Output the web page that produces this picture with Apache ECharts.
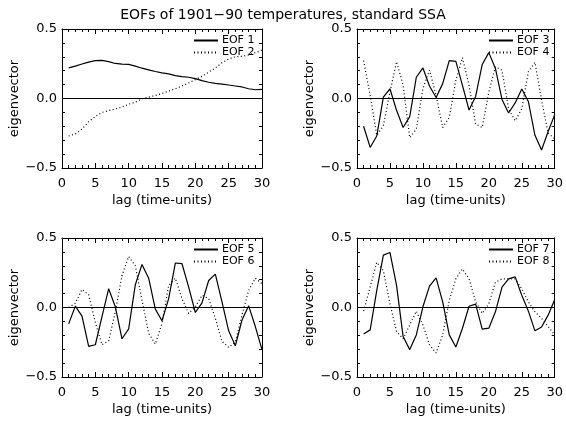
<!DOCTYPE html>
<html>
<head>
<meta charset="utf-8">
<title>EOFs of 1901-90 temperatures</title>
<script src="https://cdn.jsdelivr.net/npm/echarts@6/dist/echarts.min.js"></script>
</head>
<body style="margin:0">
<div id="container" style="width:566px;height:422px"></div>
<script>
// lags (time-units)
var lags = [1,2,3,4,5,6,7,8,9,10,11,12,13,14,15,16,17,18,19,20,21,22,23,24,25,26,27,28,29,30];

// eigenvectors
var eof1 = [0.22,0.233,0.248,0.262,0.272,0.274,0.265,0.252,0.248,0.245,0.233,0.218,0.206,0.194,0.184,0.177,0.165,0.158,0.153,0.143,0.129,0.117,0.109,0.104,0.097,0.09,0.083,0.07,0.063,0.066];
var eof2 = [-0.27,-0.255,-0.22,-0.167,-0.129,-0.1,-0.087,-0.075,-0.061,-0.041,-0.027,-0.002,0.01,0.022,0.036,0.053,0.07,0.09,0.112,0.136,0.16,0.19,0.22,0.257,0.284,0.3,0.303,0.313,0.33,0.347];
var eof3 = [-0.2,-0.352,-0.27,0.01,0.07,-0.085,-0.209,-0.13,0.153,0.22,0.09,0.007,0.107,0.272,0.267,0.095,-0.083,0.015,0.245,0.33,0.216,-0.007,-0.104,-0.032,0.068,-0.022,-0.265,-0.37,-0.237,-0.116];
var eof4 = [0.272,0.022,-0.265,-0.197,0.046,0.265,0.095,-0.282,-0.22,0.07,0.204,0.022,-0.209,-0.136,0.131,0.294,0.095,-0.184,-0.209,0.046,0.228,0.204,-0.075,-0.16,-0.075,0.192,0.26,-0.01,-0.25,-0.29];
var eof5 = [-0.118,0.01,-0.062,-0.28,-0.268,-0.066,0.135,0.005,-0.225,-0.154,0.164,0.31,0.211,-0.012,-0.095,0.064,0.32,0.315,0.147,-0.036,0.033,0.194,0.24,0.04,-0.168,-0.275,-0.09,0.012,-0.137,-0.303];
var eof6 = [0.0,0.03,0.13,0.092,-0.107,-0.268,-0.24,-0.03,0.23,0.367,0.3,0.052,-0.185,-0.263,-0.114,0.159,0.211,0.064,-0.043,0.005,0.088,0.064,-0.078,-0.244,-0.287,-0.249,-0.055,0.123,0.211,0.17];
var eof7 = [-0.19,-0.161,0.123,0.377,0.396,0.159,-0.209,-0.303,-0.197,0.005,0.154,0.213,0.04,-0.197,-0.284,-0.149,0.009,0.024,-0.156,-0.149,-0.031,0.147,0.206,0.22,0.088,-0.026,-0.168,-0.14,-0.055,0.057];
var eof8 = [-0.026,0.147,0.325,0.265,0.028,-0.173,-0.225,-0.126,-0.026,-0.126,-0.268,-0.327,-0.197,0.052,0.206,0.277,0.206,0.04,-0.043,0.028,0.182,0.206,0.206,0.206,0.135,0.04,-0.031,-0.078,-0.137,-0.197];

var xTicks = [0, 30, 5];
var yTicks = [-0.5, 0.5, 0.5];

var panels = [
    { left: 62,  top: 29,  a: eof1, b: eof2, na: 'EOF 1', nb: 'EOF 2' },
    { left: 357, top: 29,  a: eof3, b: eof4, na: 'EOF 3', nb: 'EOF 4' },
    { left: 62,  top: 238, a: eof5, b: eof6, na: 'EOF 5', nb: 'EOF 6' },
    { left: 357, top: 238, a: eof7, b: eof8, na: 'EOF 7', nb: 'EOF 8' }
];

var FONT = 'DejaVu Sans';
var W = 200, H = 139;

function pairs(vals) {
    return lags.map(function (l, i) { return [l, vals[i]]; });
}

var grid = [], xAxis = [], yAxis = [], series = [], legend = [];

panels.forEach(function (p, i) {
    grid.push({ left: p.left, top: p.top, width: W, height: H });

    var tick = { show: true, inside: true, length: 5, lineStyle: { color: '#000' } };
    var minor = { show: true, splitNumber: 5, length: 3, lineStyle: { color: '#000' } };
    var line = { show: true, onZero: false, lineStyle: { color: '#000', width: 1 } };

    // bottom axis (labelled) + top axis (ticks only)
    xAxis.push({
        type: 'value', gridIndex: i, position: 'bottom',
        min: xTicks[0], max: xTicks[1], interval: xTicks[2],
        axisLine: line, axisTick: tick, minorTick: minor,
        splitLine: { show: false },
        axisLabel: { color: '#000', fontFamily: FONT, fontSize: 13, margin: 9 },
        name: 'lag (time-units)', nameLocation: 'middle', nameGap: 26,
        nameTextStyle: { color: '#000', fontFamily: FONT, fontSize: 13 }
    });
    xAxis.push({
        type: 'value', gridIndex: i, position: 'top',
        min: xTicks[0], max: xTicks[1], interval: xTicks[2],
        axisLine: line, axisTick: tick, minorTick: minor,
        splitLine: { show: false }, axisLabel: { show: false }
    });
    // left axis (labelled) + right axis (ticks only)
    yAxis.push({
        type: 'value', gridIndex: i, position: 'left',
        min: yTicks[0], max: yTicks[1], interval: yTicks[2],
        axisLine: line, axisTick: tick, minorTick: minor,
        splitLine: { show: false },
        axisLabel: { color: '#000', fontFamily: FONT, fontSize: 13, margin: 5,
                     formatter: function (v) { return v.toFixed(1).replace('-', '\u2212'); } },
        name: 'eigenvector', nameLocation: 'middle', nameGap: 40,
        nameTextStyle: { color: '#000', fontFamily: FONT, fontSize: 13 }
    });
    yAxis.push({
        type: 'value', gridIndex: i, position: 'right',
        min: yTicks[0], max: yTicks[1], interval: yTicks[2],
        axisLine: line, axisTick: tick, minorTick: minor,
        splitLine: { show: false }, axisLabel: { show: false }
    });

    series.push({
        name: p.na, type: 'line', xAxisIndex: 2 * i, yAxisIndex: 2 * i,
        data: pairs(p.a), symbol: 'none', silent: true, color: '#000',
        lineStyle: { color: '#000', width: 1.2, type: 'solid' },
        markLine: {
            silent: true, symbol: 'none', label: { show: false },
            lineStyle: { color: '#000', width: 1.2, type: 'solid' },
            data: [{ yAxis: 0 }]
        }
    });
    series.push({
        name: p.nb, type: 'line', xAxisIndex: 2 * i, yAxisIndex: 2 * i,
        data: pairs(p.b), symbol: 'none', silent: true, color: '#000',
        lineStyle: { color: '#000', width: 1.2, type: [1, 2.5] }
    });

    legend.push({
        data: [p.na, p.nb], orient: 'vertical',
        left: p.left + 126, top: p.top + 1,
        itemWidth: 24, itemHeight: 8, itemGap: 1,
        itemStyle: { opacity: 0 },
        textStyle: { color: '#000', fontFamily: FONT, fontSize: 11, padding: [0, 0, 0, -1] },
        selectedMode: false
    });
});

var myChart = echarts.init(document.getElementById('container'), null, { renderer: 'canvas' });
myChart.setOption({
    backgroundColor: '#fff',
    animation: false,
    title: {
        text: 'EOFs of 1901\u221290 temperatures, standard SSA',
        left: 'center', top: 3,
        textStyle: { color: '#000', fontFamily: FONT, fontSize: 14, fontWeight: 'normal' }
    },
    legend: legend,
    grid: grid,
    xAxis: xAxis,
    yAxis: yAxis,
    series: series
});
</script>
</body>
</html>
